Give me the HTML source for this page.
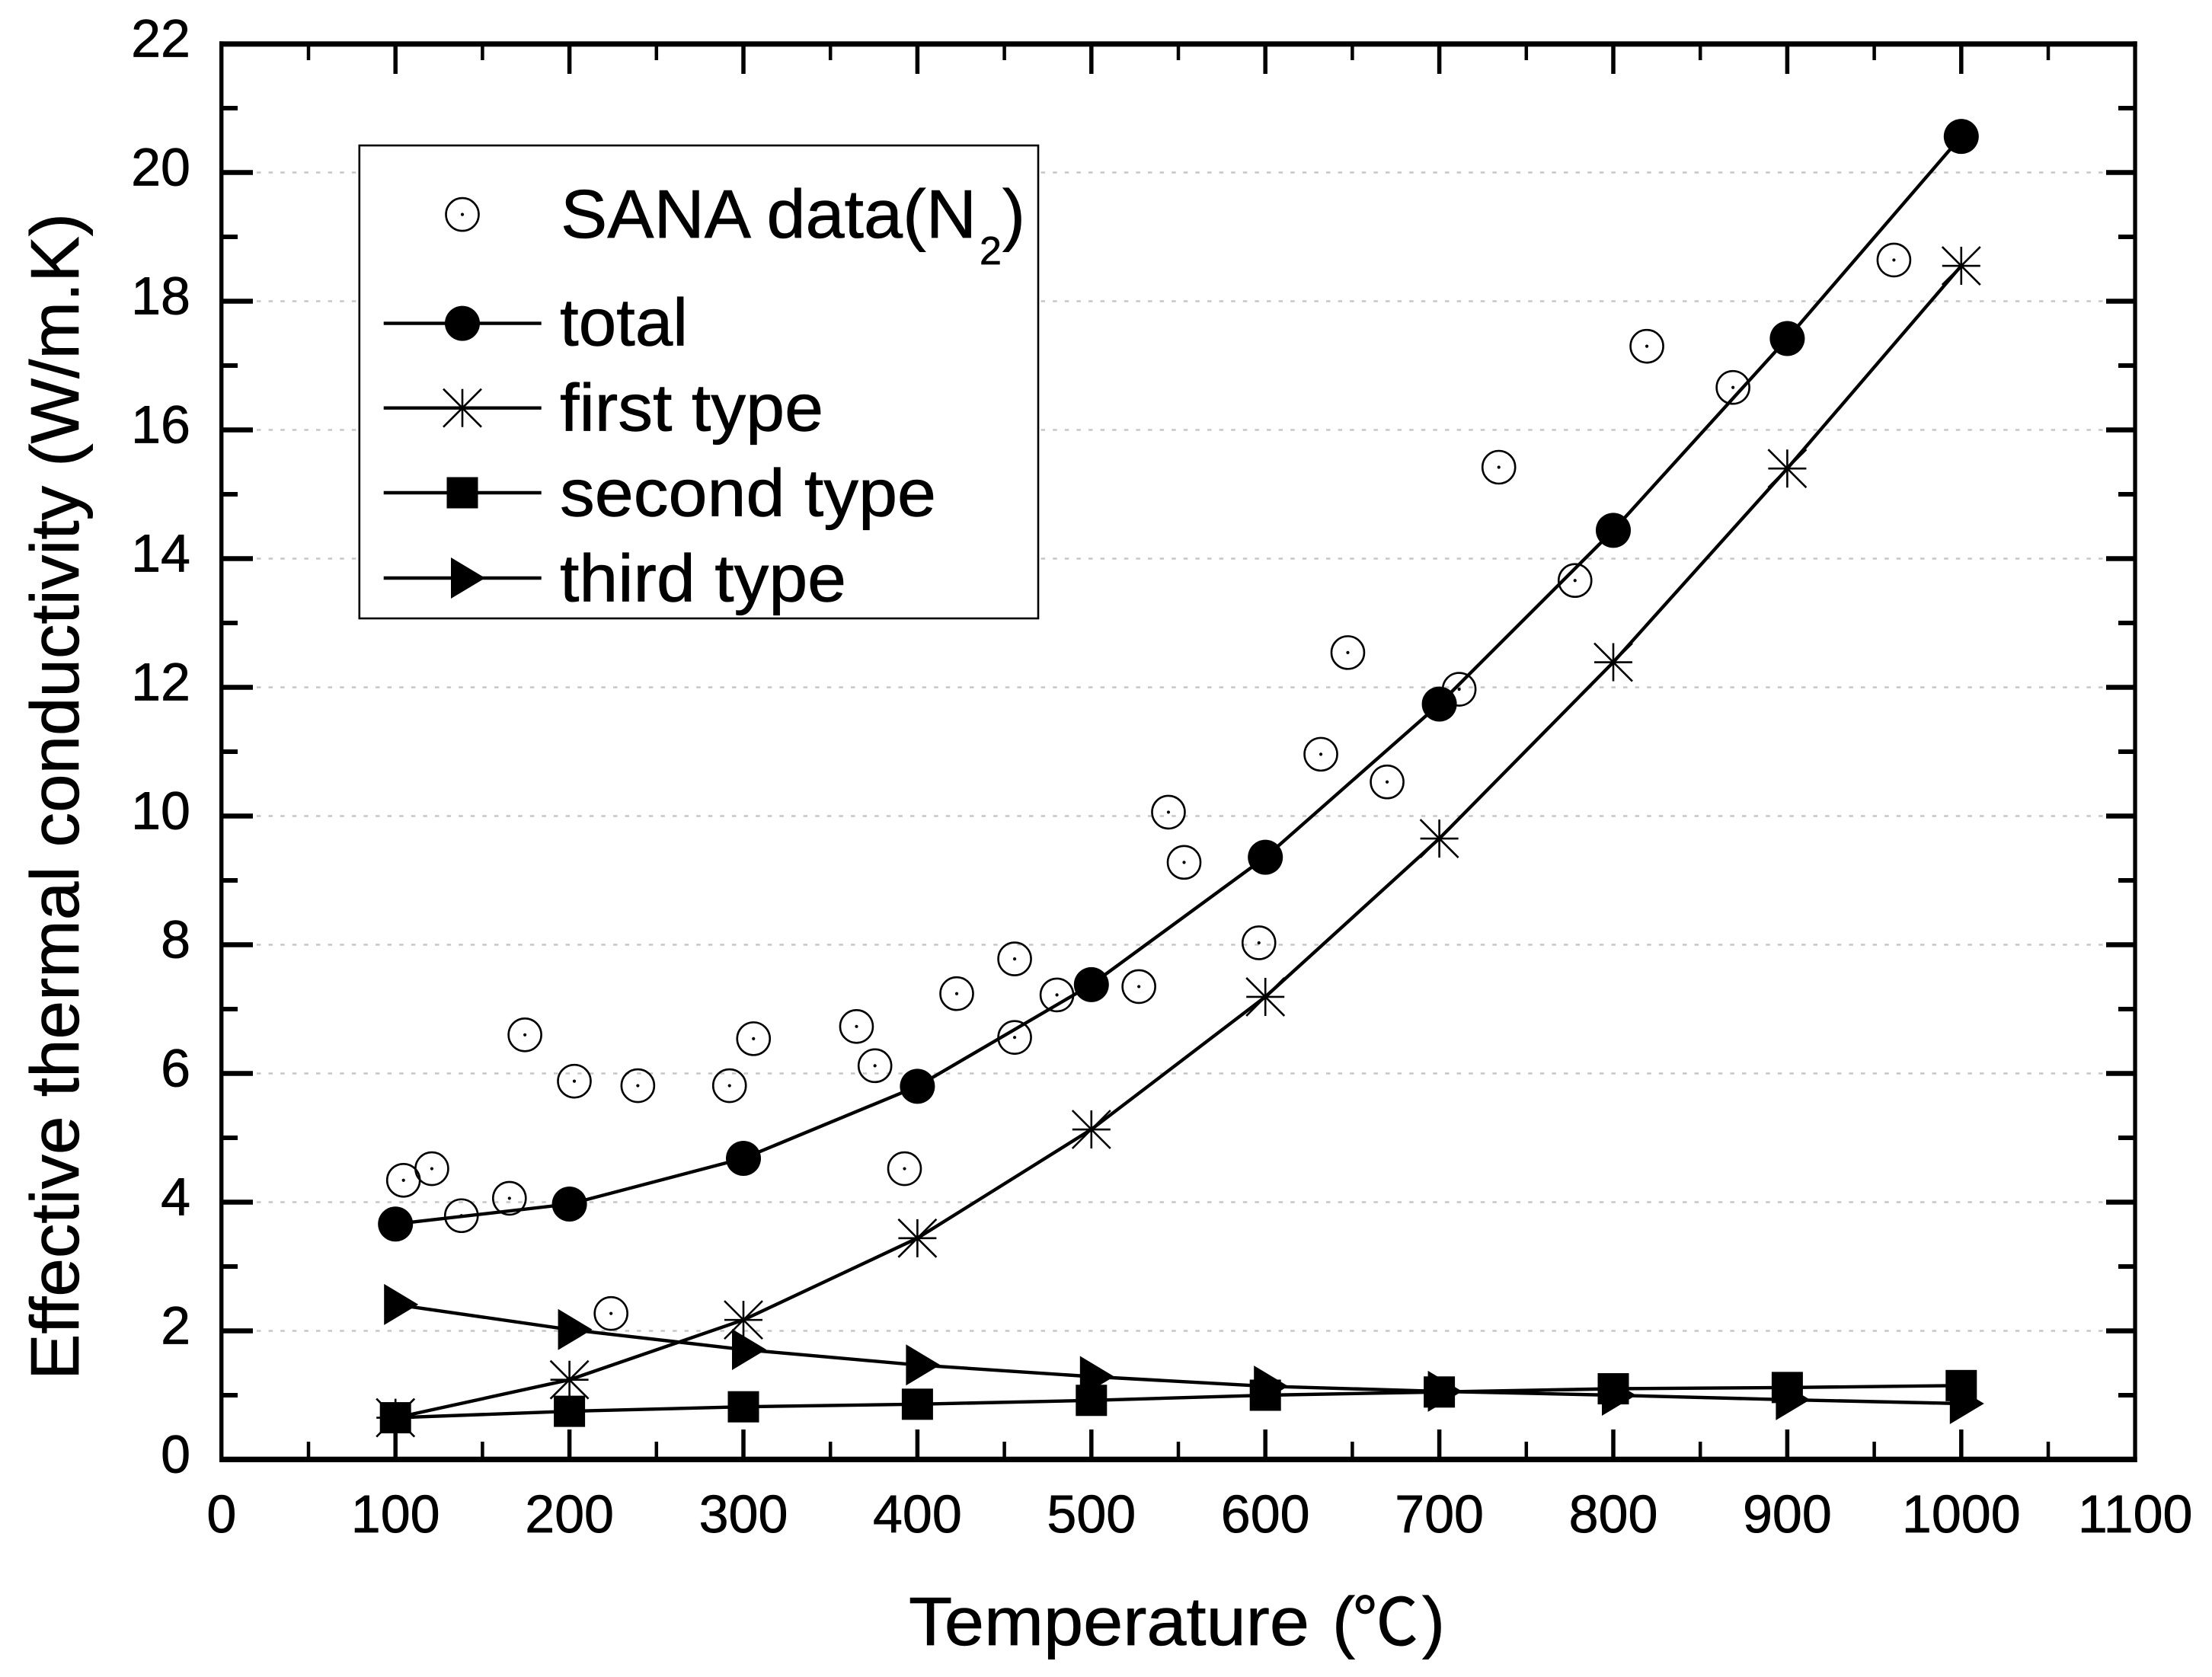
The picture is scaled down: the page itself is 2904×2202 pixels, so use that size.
<!DOCTYPE html>
<html lang="en">
<head>
<meta charset="utf-8">
<title>Effective thermal conductivity vs temperature</title>
<style>
html,body{margin:0;padding:0;background:#fff;}
svg{display:block;}
text{font-family:"Liberation Sans","Noto Sans CJK SC",sans-serif;fill:#000;text-rendering:geometricPrecision;stroke:#000;stroke-width:.7;}
</style>
</head>
<body>
<svg id="chart" xmlns="http://www.w3.org/2000/svg" width="2904" height="2202" viewBox="0 0 2904 2202">
  <rect x="0" y="0" width="2904" height="2202" fill="#fff"/>
  <g id="grid"></g>
  <g id="series"></g>
  <g id="frame">
    <rect x="288" y="54.3" width="2517.7" height="7"/>
    <rect x="288" y="1912.7" width="2517.7" height="7.3"/>
    <rect x="288" y="54.3" width="5.4" height="1865.7"/>
    <rect x="2800.4" y="54.3" width="5.3" height="1865.7"/>
  </g>
  <g id="ticks"></g>
  <g id="tick-labels" font-size="70"></g>
  <text transform="translate(103,1812) rotate(-90)" font-size="90" textLength="1532" lengthAdjust="spacingAndGlyphs">Effective thermal conductivity (W/m.K)</text>
  <text y="2160" font-size="90"><tspan x="1193" textLength="526" lengthAdjust="spacingAndGlyphs">Temperature</tspan> <tspan x="1749">(</tspan><tspan x="1776" font-family="'Noto Sans CJK SC',sans-serif" font-size="86">℃</tspan><tspan x="1867">)</tspan></text>
  <g id="legend">
    <rect x="471.8" y="191" width="891.2" height="621" fill="#fff" stroke="#000" stroke-width="2.6"/>
    <g id="legend-marks"></g>
    <text x="736" y="312" font-size="90"><tspan textLength="546" lengthAdjust="spacingAndGlyphs">SANA data(N</tspan><tspan x="1286" y="347" font-size="52">2</tspan><tspan x="1316" y="312">)</tspan></text>
    <text x="735" y="453.5" font-size="88" textLength="168" lengthAdjust="spacingAndGlyphs">total</text>
    <text x="735" y="565.5" font-size="88" textLength="346" lengthAdjust="spacingAndGlyphs">first type</text>
    <text x="735" y="677.5" font-size="88" textLength="494" lengthAdjust="spacingAndGlyphs">second type</text>
    <text x="735" y="789.5" font-size="88" textLength="376" lengthAdjust="spacingAndGlyphs">third type</text>
  </g>
</svg>
<script>
const temperatures = [100, 200, 300, 400, 500, 600, 700, 800, 900, 1000];
const totalValues = [3.66, 3.97, 4.68, 5.80, 7.38, 9.36, 11.74, 14.44, 17.42, 20.56];
const firstTypeValues = [0.65, 1.24, 2.17, 3.44, 5.13, 7.19, 9.65, 12.39, 15.40, 18.55];
const secondTypeValues = [0.65, 0.75, 0.82, 0.86, 0.92, 1.00, 1.05, 1.10, 1.12, 1.15];
const thirdTypeValues = [2.41, 2.02, 1.71, 1.47, 1.29, 1.14, 1.06, 1.00, 0.93, 0.87];
const sanaTemperatures = [104.6, 120.9, 137.9, 165.5, 174.4, 202.8, 239.3, 223.9, 292, 305.8, 365, 375.6, 392.6, 422.6, 455.9, 455.9, 480.2, 527.3, 544.3, 553.3, 596.3, 631.9, 647.4, 670, 711.4, 734.2, 778, 819.3, 868.8, 961.3];
const sanaValues = [4.34, 4.52, 3.79, 4.06, 6.60, 5.88, 5.81, 2.27, 5.81, 6.54, 6.73, 6.12, 4.52, 7.24, 7.78, 6.56, 7.22, 7.35, 10.06, 9.28, 8.03, 10.96, 12.54, 10.53, 11.97, 15.42, 13.66, 17.30, 16.66, 18.64];
const xTickLabels = [0, 100, 200, 300, 400, 500, 600, 700, 800, 900, 1000, 1100];
const yTickLabels = [0, 2, 4, 6, 8, 10, 12, 14, 16, 18, 20, 22];

const SVGNS = 'http://www.w3.org/2000/svg';
function xScale(v) { return 290.8 + v * 2.284; }
function yScale(v) { return 1916.5 - v * 84.5; }
function make(tag, parent) {
  const el = document.createElementNS(SVGNS, tag);
  parent.appendChild(el);
  return el;
}

function drawMarker(kind, cx, cy, parent, name) {
  const g = make('g', parent);
  
  
  if (kind === 'open') {
    const ring = make('circle', g);
    ring.setAttribute('cx', cx);
    ring.setAttribute('cy', cy);
    ring.setAttribute('r', 21.5);
    ring.setAttribute('fill', 'none');
    ring.setAttribute('stroke', '#000');
    ring.setAttribute('stroke-width', 2.6);
    const dot = make('circle', g);
    dot.setAttribute('cx', cx);
    dot.setAttribute('cy', cy);
    dot.setAttribute('r', 2.1);
    dot.setAttribute('fill', '#000');
  } else if (kind === 'circle') {
    const disc = make('circle', g);
    disc.setAttribute('cx', cx);
    disc.setAttribute('cy', cy);
    disc.setAttribute('r', 23);
    disc.setAttribute('fill', '#000');
  } else if (kind === 'star') {
    const s = 25;
    const star = make('path', g);
    star.setAttribute('d', 'M' + (cx - s) + ' ' + cy + 'H' + (cx + s) + 'M' + cx + ' ' + (cy - s) + 'V' + (cy + s) +
      'M' + (cx - s) + ' ' + (cy - s) + 'L' + (cx + s) + ' ' + (cy + s) + 'M' + (cx - s) + ' ' + (cy + s) + 'L' + (cx + s) + ' ' + (cy - s));
    star.setAttribute('fill', 'none');
    star.setAttribute('stroke', '#000');
    star.setAttribute('stroke-width', 2.6);
  } else if (kind === 'square') {
    const sq = make('rect', g);
    sq.setAttribute('x', cx - 20.5);
    sq.setAttribute('y', cy - 20.5);
    sq.setAttribute('width', 41);
    sq.setAttribute('height', 41);
    sq.setAttribute('fill', '#000');
  } else {
    const tri = make('path', g);
    tri.setAttribute('d', 'M' + (cx - 15) + ' ' + (cy - 27) + 'L' + (cx + 30) + ' ' + cy + 'L' + (cx - 15) + ' ' + (cy + 27) + 'Z');
    tri.setAttribute('fill', '#000');
  }
}

function drawSeries(values, kind, name, parent) {
  const g = make('g', parent);
  
  
  const line = make('path', g);
  
  
  line.setAttribute('d', values.map(function (v, i) {
    return (i ? 'L' : 'M') + xScale(temperatures[i]).toFixed(1) + ' ' + yScale(v).toFixed(1);
  }).join(''));
  line.setAttribute('fill', 'none');
  line.setAttribute('stroke', '#000');
  line.setAttribute('stroke-width', 4.4);
  values.forEach(function (v, i) {
    drawMarker(kind, xScale(temperatures[i]), yScale(v), g, 'point-' + name + '-' + temperatures[i]);
  });
}

const gridLayer = document.getElementById('grid');
yTickLabels.forEach(function (v) {
  if (v === 0 || v === 22) return;
  const gl = make('line', gridLayer);
  
  
  gl.setAttribute('x1', 337);
  gl.setAttribute('x2', 2764);
  gl.setAttribute('y1', yScale(v));
  gl.setAttribute('y2', yScale(v));
  gl.setAttribute('stroke', '#c6c6c6');
  gl.setAttribute('stroke-width', 2.6);
  gl.setAttribute('stroke-dasharray', '5.5 10.1');
});

const seriesLayer = document.getElementById('series');
const sanaGroup = make('g', seriesLayer);


sanaValues.forEach(function (v, i) {
  drawMarker('open', xScale(sanaTemperatures[i]), yScale(v), sanaGroup, 'point-sana-' + i);
});
drawSeries(totalValues, 'circle', 'total', seriesLayer);
drawSeries(firstTypeValues, 'star', 'first-type', seriesLayer);
drawSeries(thirdTypeValues, 'triangle', 'third-type', seriesLayer);
drawSeries(secondTypeValues, 'square', 'second-type', seriesLayer);

const tickLayer = document.getElementById('ticks');
function drawTick(x1, y1, x2, y2, width, name) {
  const t = make('line', tickLayer);
  
  
  t.setAttribute('x1', x1);
  t.setAttribute('y1', y1);
  t.setAttribute('x2', x2);
  t.setAttribute('y2', y2);
  t.setAttribute('stroke', '#000');
  t.setAttribute('stroke-width', width);
}
const labelLayer = document.getElementById('tick-labels');
xTickLabels.forEach(function (v, i) {
  const px = xScale(v);
  if (i > 0 && i < xTickLabels.length - 1) {
    drawTick(px, 1914, px, 1877, 5.5, 'x-tick-bottom-' + v);
    drawTick(px, 60, px, 97, 5.5, 'x-tick-top-' + v);
  }
  if (i < xTickLabels.length - 1) {
    const mid = xScale(v + (xTickLabels[1] - xTickLabels[0]) / 2);
    drawTick(mid, 1914, mid, 1893, 4.5, 'x-minor-tick-bottom-' + i);
    drawTick(mid, 60, mid, 79, 4.5, 'x-minor-tick-top-' + i);
  }
  const lab = make('text', labelLayer);
  
  
  lab.setAttribute('x', px);
  lab.setAttribute('y', 2012);
  lab.setAttribute('text-anchor', 'middle');
  lab.textContent = v;
});
yTickLabels.forEach(function (v, i) {
  const py = yScale(v);
  if (i > 0 && i < yTickLabels.length - 1) {
    drawTick(292, py, 332, py, 6.5, 'y-tick-left-' + v);
    drawTick(2802, py, 2765, py, 6.5, 'y-tick-right-' + v);
  }
  if (i < yTickLabels.length - 1) {
    const mid = yScale(v + (yTickLabels[1] - yTickLabels[0]) / 2);
    drawTick(292, mid, 312, mid, 6, 'y-minor-tick-left-' + i);
    drawTick(2802, mid, 2781, mid, 6, 'y-minor-tick-right-' + i);
  }
  const lab = make('text', labelLayer);
  
  
  lab.setAttribute('x', 250);
  lab.setAttribute('y', py + 17);
  lab.setAttribute('text-anchor', 'end');
  lab.textContent = v;
});

const legendMarks = document.getElementById('legend-marks');
drawMarker('open', 607, 281.6, legendMarks, 'legend-marker-sana');
const legendRows = [['circle', 424.6, 'total'], ['star', 535.7, 'first-type'], ['square', 647, 'second-type'], ['triangle', 759, 'third-type']];
legendRows.forEach(function (row) {
  const ln = make('line', legendMarks);
  
  
  ln.setAttribute('x1', 503.7);
  ln.setAttribute('x2', 710.7);
  ln.setAttribute('y1', row[1]);
  ln.setAttribute('y2', row[1]);
  ln.setAttribute('stroke', '#000');
  ln.setAttribute('stroke-width', 4.4);
  drawMarker(row[0], 607, row[1], legendMarks, 'legend-marker-' + row[2]);
});
</script>
</body>
</html>
